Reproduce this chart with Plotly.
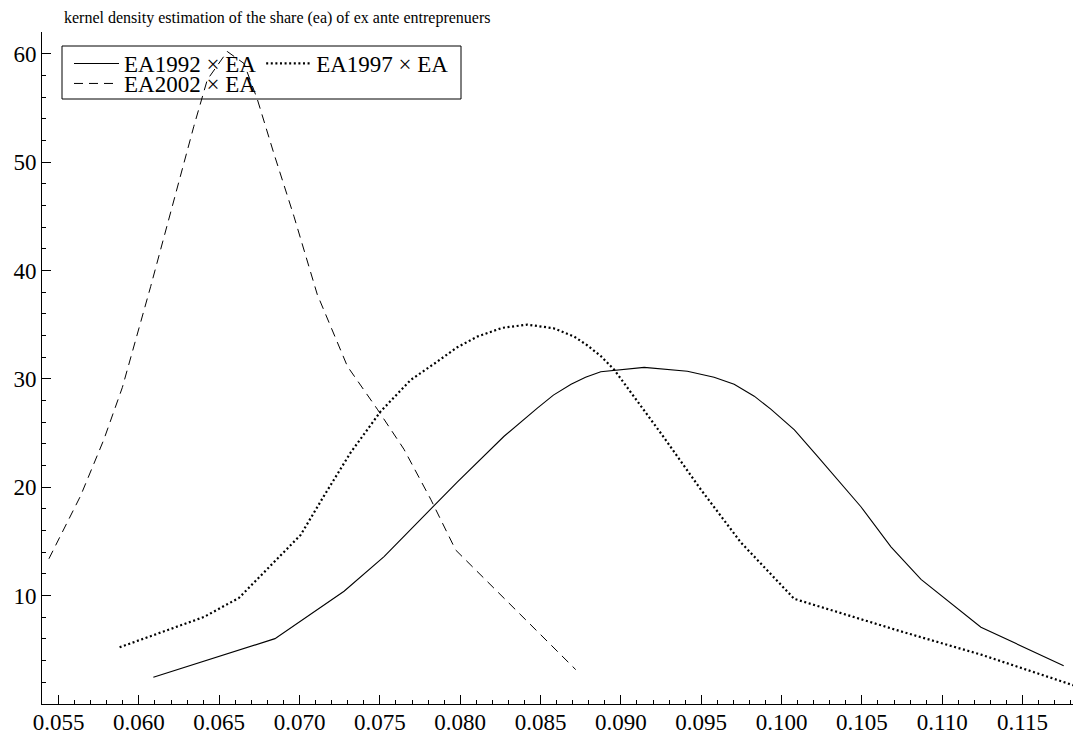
import plotly.graph_objects as go

# EA1992 x EA (solid)
x1992 = [0.0609, 0.06847, 0.07277, 0.07526, 0.07983, 0.08273, 0.0848, 0.0858, 0.0869, 0.0878, 0.08875,
         0.09145, 0.09414, 0.0958, 0.09705, 0.0983, 0.09933, 0.1008, 0.10224, 0.10494, 0.10681,
         0.10868, 0.11241, 0.11756]
y1992 = [2.46, 6.03, 10.4, 13.6, 20.5, 24.7, 27.3, 28.5, 29.5, 30.15, 30.65,
         31.06, 30.7, 30.15, 29.5, 28.4, 27.2, 25.3, 22.85, 18.2, 14.5,
         11.5, 7.08, 3.54]

# EA1997 x EA (dotted)
x1997 = [0.0588, 0.06405, 0.06623, 0.07007, 0.07152, 0.07318, 0.07505, 0.07692, 0.07858,
         0.0798, 0.08107, 0.0826, 0.08418, 0.0858, 0.08709, 0.0879, 0.08875, 0.08958, 0.09248,
         0.09497, 0.09747, 0.10079, 0.10743, 0.11241, 0.11822]
y1997 = [5.23, 8.03, 9.79, 15.6, 19.2, 23.2, 27.0, 29.9, 31.6,
         32.9, 33.9, 34.7, 35.0, 34.67, 33.9, 33.1, 32.1, 30.85, 25.0,
         19.8, 14.9, 9.7, 6.7, 4.56, 1.7]

# EA2002 x EA (dashed)
x2002 = [0.0544, 0.05637, 0.05782, 0.05897, 0.06073, 0.06218, 0.06342, 0.06426, 0.0655,
         0.06654, 0.06737, 0.0684, 0.06965, 0.0711, 0.07298, 0.07484, 0.0765, 0.07816,
         0.07972, 0.08719]
y2002 = [13.4, 19.2, 24.4, 29.2, 38.5, 46.5, 53.3, 57.6, 60.2,
         59.1, 55.8, 50.8, 45.0, 37.8, 31.15, 27.2, 23.5, 18.9,
         14.2, 3.17]

xticks = [0.055, 0.060, 0.065, 0.070, 0.075, 0.080, 0.085, 0.090, 0.095, 0.100, 0.105, 0.110, 0.115]
xticklabels = ["0.055", "0.060", "0.065", "0.070", "0.075", "0.080", "0.085", "0.090",
               "0.095", "0.100", "0.105", "0.110", "0.115"]
yticks = [10, 20, 30, 40, 50, 60]
yticklabels = ["10", "20", "30", "40", "50", "60"]

names = ["EA1992 × EA", "EA1997 × EA", "EA2002 × EA"]
title = "kernel density estimation of the share (ea) of ex ante entreprenuers"

FONT = "Liberation Serif"

fig = go.Figure()
fig.add_trace(go.Scatter(x=x1992, y=y1992, mode="lines", name=names[0],
                         line=dict(color="black", width=1.1), legend="legend"))
fig.add_trace(go.Scatter(x=x1997, y=y1997, mode="lines", name=names[1],
                         line=dict(color="black", width=2.2, dash="2px,2.6px"), legend="legend"))
fig.add_trace(go.Scatter(x=x2002, y=y2002, mode="lines", name=names[2],
                         line=dict(color="black", width=1.0, dash="9px,6px"), legend="legend2"))

W, H = 1084, 738
# target plot area in page pixels: left 42, right 1073, top 32, bottom 704
PL, PR, PT, PB = 42, 1073, 32, 704
ml, mt, mr, mb = PL, PT, W - PR, H - PB
pw, ph = PR - PL, PB - PT

def px2paper_x(px):
    return (px - PL) / pw

def px2paper_y(py):
    return (PB - py) / ph

axis_common = dict(showline=True, linecolor="black", linewidth=1, showgrid=False, zeroline=False,
                   ticks="inside", ticklen=9, tickwidth=1, tickcolor="black", automargin=False,
                   tickfont=dict(family=FONT, size=23, color="black"), mirror=False)

fig.update_layout(
    width=W, height=H,
    margin=dict(l=ml, r=mr, t=mt, b=mb, autoexpand=False),
    plot_bgcolor="white", paper_bgcolor="white",
    font=dict(family=FONT, color="black"),
    title=dict(text=title, font=dict(family=FONT, size=16, color="black"),
               xref="paper", x=px2paper_x(64), xanchor="left",
               yref="container", y=1 - 17 / H, yanchor="middle"),
    xaxis=dict(range=[0.05397, 0.11814], tickvals=xticks, ticktext=xticklabels, ticklabelstandoff=-3,
               minor=dict(dtick=0.001, tick0=0.054, ticks="inside", ticklen=4, tickcolor="black", showgrid=False),
               **axis_common),
    yaxis=dict(range=[0, 62], tickvals=yticks, ticktext=yticklabels, ticklabelstandoff=0,
               minor=dict(dtick=2, tick0=0, ticks="inside", ticklen=4, tickcolor="black", showgrid=False),
               **axis_common),
    legend=dict(orientation="h", x=px2paper_x(69), xanchor="left", y=px2paper_y(63.5), yanchor="middle",
                bgcolor="rgba(0,0,0,0)", borderwidth=0, itemwidth=45,
                font=dict(family=FONT, size=23, color="black"), tracegroupgap=0),
    legend2=dict(orientation="h", x=px2paper_x(69), xanchor="left", y=px2paper_y(83.5), yanchor="middle",
                 bgcolor="rgba(0,0,0,0)", borderwidth=0, itemwidth=45,
                 font=dict(family=FONT, size=23, color="black")),
    shapes=[dict(type="rect", xref="paper", yref="paper",
                 x0=px2paper_x(62), x1=px2paper_x(461), y0=px2paper_y(99), y1=px2paper_y(46),
                 line=dict(color="black", width=1), fillcolor="rgba(0,0,0,0)", layer="above")],
)

fig.write_html("out.html", config={"displayModeBar": False},
               post_script="document.body.style.margin='0';document.body.style.overflow='hidden';")
